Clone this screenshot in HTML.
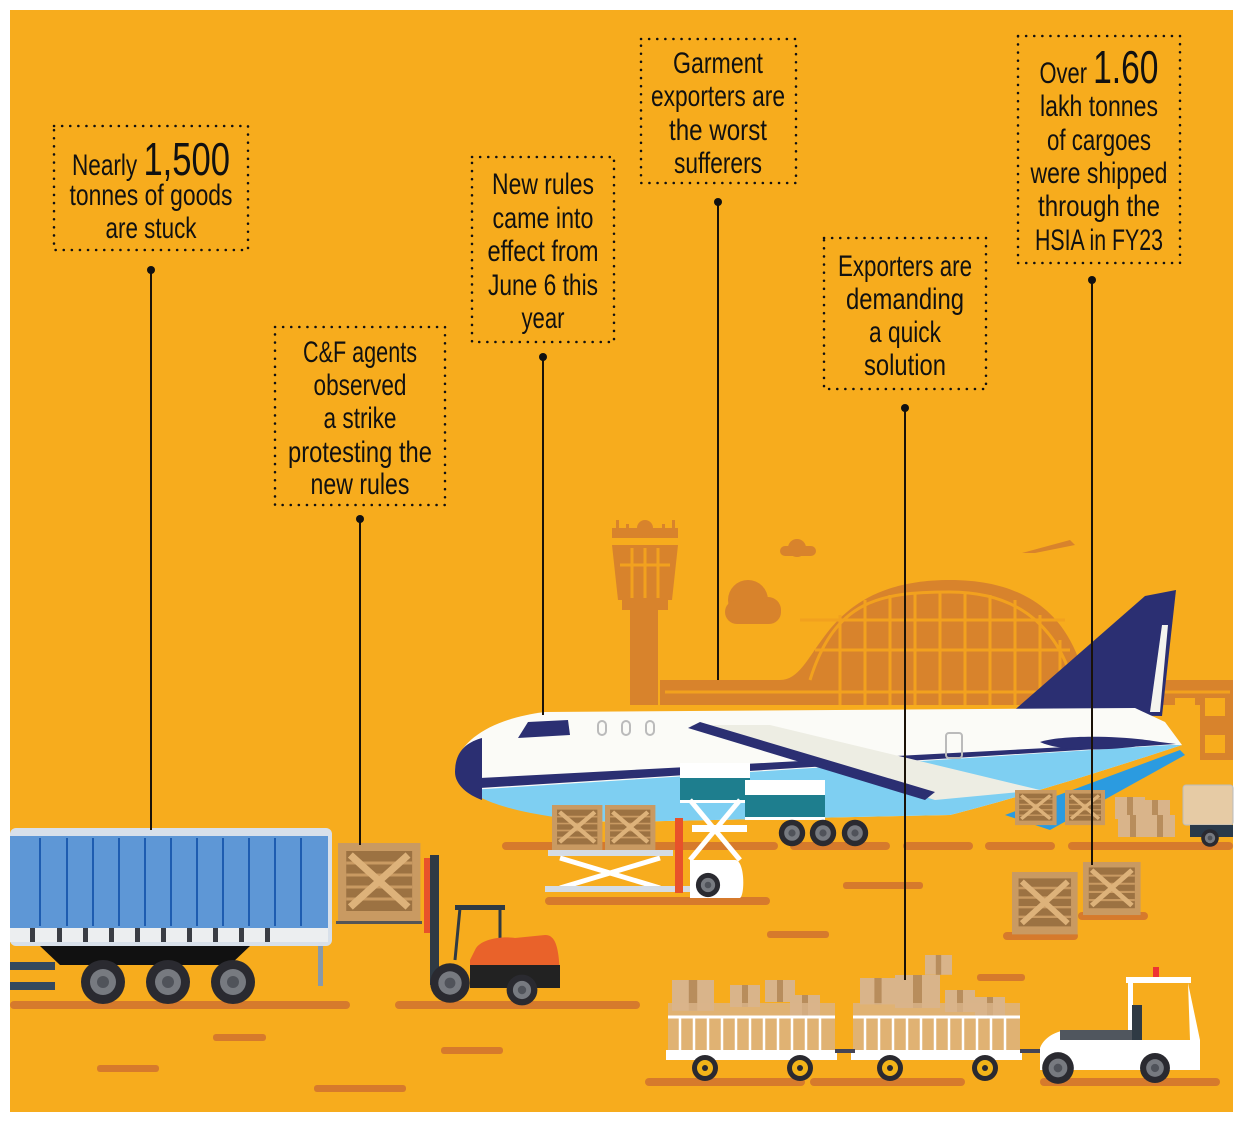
<!DOCTYPE html>
<html><head><meta charset="utf-8"><style>
html,body{margin:0;padding:0;background:#fff}
svg{display:block}
text{font-family:"Liberation Sans Narrow","Liberation Sans",sans-serif;fill:#111;font-size:30px;text-anchor:middle}
.big{font-size:46px}
</style></head><body>
<svg width="1243" height="1122" viewBox="0 0 1243 1122" xmlns="http://www.w3.org/2000/svg">
<defs>
<g id="crate">
<rect x="0" y="0" width="80" height="78" fill="#C99A62"/>
<rect x="8" y="8" width="64" height="60" fill="#9C7242"/>
<g stroke="#C99A62" stroke-width="3"><line x1="8" y1="20" x2="72" y2="20"/><line x1="8" y1="32" x2="72" y2="32"/><line x1="8" y1="44" x2="72" y2="44"/><line x1="8" y1="56" x2="72" y2="56"/></g>
<line x1="12" y1="12" x2="68" y2="64" stroke="#DDB27A" stroke-width="7"/>
<line x1="68" y1="12" x2="12" y2="64" stroke="#DDB27A" stroke-width="7"/>
</g>
<g id="box"><rect width="30" height="22" fill="#D9B48A"/><rect x="12" width="6" height="22" fill="#B88D5C"/></g>
<g id="wheel"><circle r="22" fill="#2a2a30"/><circle r="13" fill="#777a80"/><circle r="6" fill="#50535a"/></g>
<g id="ywheel"><circle r="13" fill="#2a2a30"/><circle r="8" fill="#F2B418"/><circle r="3" fill="#2a2a30"/></g>
</defs>
<rect x="10" y="10" width="1223" height="1102" fill="#F7AC1D"/>

<!-- background buildings -->
<g fill="#D8832C">
<polygon points="612,545 678,545 672,600 618,600"/>
<rect x="622" y="600" width="46" height="10"/>
<rect x="630" y="610" width="28" height="95"/>
<rect x="612" y="528" width="66" height="10"/>
<circle cx="645" cy="528" r="8"/>
<rect x="616" y="520" width="3" height="12"/><rect x="626" y="524" width="3" height="8"/><rect x="662" y="524" width="3" height="8"/><rect x="672" y="520" width="3" height="12"/>
<path d="M660,680 L780,680 C820,680 815,580 950,580 C1050,580 1075,640 1085,680 L1233,680 L1233,760 L1200,760 L1200,705 L660,705 Z"/>
<circle cx="797" cy="548" r="9"/><rect x="780" y="546" width="36" height="10" rx="5"/>
<circle cx="748" cy="600" r="20"/><circle cx="768" cy="610" r="13"/><rect x="725" y="600" width="56" height="24" rx="12"/>
<polygon points="1022,553 1070,540 1075,545 1035,553"/>
</g>
<g stroke="#F2A11E" stroke-width="3" fill="none">
<line x1="620" y1="565" x2="670" y2="565"/><line x1="632" y1="548" x2="632" y2="598"/><line x1="645" y1="548" x2="645" y2="598"/><line x1="658" y1="548" x2="658" y2="598"/>
<line x1="665" y1="692" x2="1230" y2="692"/>
<path d="M810,680 C835,600 880,592 950,592 C1030,592 1060,640 1072,680"/>
<line x1="840" y1="615" x2="840" y2="705"/><line x1="865" y1="600" x2="865" y2="705"/><line x1="890" y1="595" x2="890" y2="705"/><line x1="915" y1="592" x2="915" y2="705"/><line x1="940" y1="592" x2="940" y2="705"/><line x1="965" y1="592" x2="965" y2="705"/><line x1="990" y1="595" x2="990" y2="705"/><line x1="1015" y1="600" x2="1015" y2="705"/><line x1="1040" y1="615" x2="1040" y2="705"/><line x1="1060" y1="640" x2="1060" y2="705"/>
<line x1="815" y1="650" x2="1070" y2="650"/><line x1="800" y1="620" x2="1065" y2="620"/>
</g>
<g fill="#F7AC1D"><rect x="1175" y="698" width="20" height="18"/><rect x="1205" y="698" width="20" height="18"/><rect x="1175" y="735" width="20" height="18"/><rect x="1205" y="735" width="20" height="18"/></g>

<!-- ground dashes -->
<g fill="#D67A2C">
<rect x="10" y="1001" width="340" height="8" rx="4"/><rect x="395" y="1001" width="245" height="8" rx="4"/>
<rect x="213" y="1034" width="53" height="7" rx="3"/><rect x="97" y="1065" width="62" height="7" rx="3"/><rect x="314" y="1085" width="92" height="7" rx="3"/><rect x="441" y="1047" width="62" height="7" rx="3"/>
<rect x="645" y="1078" width="160" height="8" rx="4"/><rect x="810" y="1078" width="155" height="8" rx="4"/><rect x="1040" y="1078" width="180" height="8" rx="4"/>
<rect x="843" y="882" width="80" height="7" rx="3"/><rect x="767" y="931" width="62" height="7" rx="3"/><rect x="977" y="974" width="48" height="7" rx="3"/><rect x="620" y="1001" width="17" height="7" rx="3"/>
<rect x="502" y="842" width="276" height="8" rx="4"/><rect x="790" y="842" width="100" height="8" rx="4"/><rect x="903" y="842" width="70" height="8" rx="4"/><rect x="985" y="842" width="70" height="8" rx="4"/><rect x="1068" y="842" width="165" height="8" rx="4"/>
<rect x="545" y="897" width="225" height="8" rx="4"/>
<rect x="1003" y="932" width="75" height="8" rx="4"/><rect x="1078" y="912" width="70" height="8" rx="4"/>
</g>

<!-- plane -->
<path d="M1010,714 L1145,596 L1176,590 L1162,716 Z" fill="#2B2F72"/>
<path d="M1150,712 L1162,625 L1168,625 L1160,712 Z" fill="#F4F4EE"/>
<path d="M455,772 C455,740 495,718 545,712 L1135,708 L1165,722 L1182,745 C1100,772 1010,800 950,815 L620,822 C540,820 468,802 455,772 Z" fill="#FBFBF7"/>
<path d="M470,790 L1170,745 L1182,745 C1100,772 1010,800 950,815 L620,822 C540,820 485,805 470,790 Z" fill="#7ECFF2"/>
<path d="M480,778 L1160,742 L1176,744 L480,788 Z" fill="#2B2F72"/>
<path d="M455,772 C455,750 468,742 482,738 L482,800 C468,795 455,785 455,772 Z" fill="#2B2F72"/>
<polygon points="518,738 528,722 568,720 570,735" fill="#2B2F72"/>
<g fill="none" stroke="#bbb" stroke-width="2"><rect x="598" y="721" width="8" height="14" rx="4"/><rect x="622" y="721" width="8" height="14" rx="4"/><rect x="646" y="721" width="8" height="14" rx="4"/><rect x="946" y="733" width="16" height="25" rx="3"/></g>
<path d="M1040,742 C1060,735 1120,735 1160,742 C1120,752 1060,752 1040,742 Z" fill="#2B2F72"/>
<path d="M1005,815 L1180,750 L1185,755 L1050,830 Z" fill="#2B9BE0"/>
<rect x="680" y="763" width="70" height="40" fill="#fff"/><rect x="680" y="778" width="70" height="22" fill="#1E7E8E"/>
<rect x="745" y="780" width="80" height="40" fill="#fff"/><rect x="745" y="795" width="80" height="22" fill="#1E7E8E"/>
<polygon points="690,725 770,725 1040,790 935,800" fill="#EDEDE3"/>
<path d="M688,728 L700,722 L935,792 L925,800 Z" fill="#2B2F72"/>
<use href="#wheel" transform="translate(792,833) scale(0.6)"/><use href="#wheel" transform="translate(823,833) scale(0.6)"/><use href="#wheel" transform="translate(855,833) scale(0.6)"/>

<!-- scissor lift -->
<use href="#crate" transform="translate(552,805) scale(0.63,0.58)"/><use href="#crate" transform="translate(605,805) scale(0.63,0.58)"/>
<rect x="548" y="850" width="125" height="6" fill="#D5DCE4"/>
<g stroke="#fff" stroke-width="5"><line x1="560" y1="858" x2="660" y2="888"/><line x1="660" y1="858" x2="560" y2="888"/><line x1="690" y1="800" x2="740" y2="860"/><line x1="740" y1="800" x2="690" y2="860"/></g>
<rect x="545" y="886" width="145" height="6" fill="#D5DCE4"/>
<rect x="675" y="818" width="8" height="75" fill="#E8522A"/>
<rect x="692" y="825" width="55" height="7" fill="#fff"/>
<path d="M690,860 L735,860 C745,860 745,895 740,898 L690,898 Z" fill="#fff"/>
<use href="#wheel" transform="translate(708,885) scale(0.55)"/>

<!-- right cargo -->
<use href="#crate" transform="translate(1015,790) scale(0.52,0.45)"/><use href="#crate" transform="translate(1065,790) scale(0.5,0.45)"/>
<use href="#box" transform="translate(1115,797)"/><use href="#box" transform="translate(1140,800)"/><use href="#box" transform="translate(1118,815)"/><use href="#box" transform="translate(1145,815)"/>
<rect x="1183" y="785" width="50" height="40" rx="3" fill="#E6CBA5" stroke="#bbb"/>
<rect x="1190" y="825" width="43" height="12" fill="#2a3a4a"/>
<use href="#wheel" transform="translate(1210,838) scale(0.4)"/>
<use href="#crate" transform="translate(1012,872) scale(0.82,0.8)"/>
<use href="#crate" transform="translate(1083,862) scale(0.72,0.68)"/>

<!-- truck -->
<rect x="10" y="828" width="322" height="118" rx="6" fill="#D8E0EA"/>
<rect x="10" y="836" width="318" height="92" fill="#5E97D6"/>
<g stroke="#1E5CB0" stroke-width="2"><line x1="40" y1="838" x2="40" y2="926"/><line x1="67" y1="838" x2="67" y2="926"/><line x1="93" y1="838" x2="93" y2="926"/><line x1="119" y1="838" x2="119" y2="926"/><line x1="145" y1="838" x2="145" y2="926"/><line x1="171" y1="838" x2="171" y2="926"/><line x1="197" y1="838" x2="197" y2="926"/><line x1="223" y1="838" x2="223" y2="926"/><line x1="249" y1="838" x2="249" y2="926"/><line x1="275" y1="838" x2="275" y2="926"/><line x1="301" y1="838" x2="301" y2="926"/></g>
<rect x="10" y="928" width="318" height="14" fill="#ECEEF0"/>
<g fill="#3a3d44"><rect x="30" y="928" width="5" height="14"/><rect x="57" y="928" width="5" height="14"/><rect x="83" y="928" width="5" height="14"/><rect x="109" y="928" width="5" height="14"/><rect x="135" y="928" width="5" height="14"/><rect x="161" y="928" width="5" height="14"/><rect x="187" y="928" width="5" height="14"/><rect x="213" y="928" width="5" height="14"/><rect x="239" y="928" width="5" height="14"/><rect x="265" y="928" width="5" height="14"/></g>
<path d="M40,946 L250,946 L230,965 L60,965 Z" fill="#111"/>
<rect x="10" y="962" width="45" height="8" fill="#34495e"/><rect x="10" y="982" width="45" height="8" fill="#34495e"/>
<rect x="318" y="946" width="5" height="40" fill="#8899aa"/>
<use href="#wheel" transform="translate(103,982)"/><use href="#wheel" transform="translate(168,982)"/><use href="#wheel" transform="translate(233,982)"/>

<!-- forklift -->
<use href="#crate" transform="translate(338,843) scale(1.03,1.0)"/>
<rect x="336" y="921" width="86" height="3" fill="#555"/>
<rect x="424" y="858" width="7" height="75" fill="#E8522A"/>
<rect x="430" y="855" width="9" height="130" fill="#2f3a44"/>
<rect x="455" y="905" width="50" height="5" fill="#2f3a44"/>
<path d="M460,908 L455,960 M500,908 L500,945" stroke="#2f3a44" stroke-width="3"/>
<path d="M475,950 C480,938 505,936 515,938 L545,935 C555,935 560,945 560,985 L470,985 L470,960 Z" fill="#E9622A"/>
<path d="M470,965 L560,965 L560,988 L470,988 Z" fill="#222"/>
<use href="#wheel" transform="translate(450,983) scale(0.9)"/><use href="#wheel" transform="translate(522,990) scale(0.7)"/>

<!-- carts -->
<g>
<use href="#box" transform="translate(672,980) scale(1.4)"/><use href="#box" transform="translate(730,985)"/><use href="#box" transform="translate(765,980)"/><use href="#box" transform="translate(790,995)"/>
<use href="#box" transform="translate(860,978) scale(1.2)"/><use href="#box" transform="translate(895,975) scale(1.5)"/><use href="#box" transform="translate(925,955) scale(0.9)"/><use href="#box" transform="translate(945,990)"/><use href="#box" transform="translate(975,997)"/>
<rect x="668" y="1003" width="167" height="50" fill="#D9B48A" opacity=".8"/>
<rect x="853" y="1003" width="167" height="50" fill="#D9B48A" opacity=".8"/>
<g stroke="#fff" stroke-width="3"><line x1="668" y1="1017" x2="835" y2="1017"/><line x1="853" y1="1017" x2="1020" y2="1017"/></g>
<g stroke="#fff" stroke-width="2.5"><line x1="680" y1="1017" x2="680" y2="1050"/><line x1="694" y1="1017" x2="694" y2="1050"/><line x1="708" y1="1017" x2="708" y2="1050"/><line x1="722" y1="1017" x2="722" y2="1050"/><line x1="736" y1="1017" x2="736" y2="1050"/><line x1="750" y1="1017" x2="750" y2="1050"/><line x1="764" y1="1017" x2="764" y2="1050"/><line x1="778" y1="1017" x2="778" y2="1050"/><line x1="792" y1="1017" x2="792" y2="1050"/><line x1="806" y1="1017" x2="806" y2="1050"/><line x1="820" y1="1017" x2="820" y2="1050"/>
<line x1="865" y1="1017" x2="865" y2="1050"/><line x1="879" y1="1017" x2="879" y2="1050"/><line x1="893" y1="1017" x2="893" y2="1050"/><line x1="907" y1="1017" x2="907" y2="1050"/><line x1="921" y1="1017" x2="921" y2="1050"/><line x1="935" y1="1017" x2="935" y2="1050"/><line x1="949" y1="1017" x2="949" y2="1050"/><line x1="963" y1="1017" x2="963" y2="1050"/><line x1="977" y1="1017" x2="977" y2="1050"/><line x1="991" y1="1017" x2="991" y2="1050"/><line x1="1005" y1="1017" x2="1005" y2="1050"/></g>
<rect x="666" y="1050" width="171" height="10" fill="#fff"/><rect x="851" y="1050" width="171" height="10" fill="#fff"/>
<rect x="835" y="1049" width="20" height="4" fill="#445"/><rect x="1020" y="1049" width="25" height="4" fill="#445"/>
<use href="#ywheel" transform="translate(705,1068)"/><use href="#ywheel" transform="translate(800,1068)"/><use href="#ywheel" transform="translate(890,1068)"/><use href="#ywheel" transform="translate(985,1068)"/>
<rect x="1126" y="977" width="65" height="6" fill="#fff"/><rect x="1153" y="967" width="6" height="10" fill="#e33"/>
<rect x="1128" y="983" width="5" height="50" fill="#fff"/>
<path d="M1188,983 L1200,1040 L1200,1070 L1040,1070 L1040,1048 C1045,1035 1060,1030 1070,1030 L1130,1030 L1130,1040 L1190,1040 Z" fill="#fff"/>
<rect x="1060" y="1030" width="72" height="10" fill="#50565e"/>
<rect x="1132" y="1005" width="10" height="35" fill="#2f3a44"/>
<use href="#wheel" transform="translate(1058,1068) scale(0.72)"/><use href="#wheel" transform="translate(1155,1068) scale(0.68)"/>
</g>

<!-- connectors -->
<g stroke="#1a1208" stroke-width="2">
<line x1="151" y1="270" x2="151" y2="830"/>
<line x1="360" y1="519" x2="360" y2="845"/>
<line x1="543" y1="357" x2="543" y2="715"/>
<line x1="718" y1="202" x2="718" y2="680"/>
<line x1="905" y1="408" x2="905" y2="980"/>
<line x1="1092" y1="280" x2="1092" y2="865"/>
</g>
<g fill="#111"><circle cx="151" cy="270" r="4"/><circle cx="360" cy="519" r="4"/><circle cx="543" cy="357" r="4"/><circle cx="718" cy="202" r="4"/><circle cx="905" cy="408" r="4"/><circle cx="1092" cy="280" r="4"/></g>

<!-- label boxes -->
<g fill="none" stroke="#111" stroke-width="2.5" stroke-dasharray="0.1 8" stroke-linecap="round">
<rect x="54" y="126" width="194" height="124"/>
<rect x="275" y="327" width="170" height="178"/>
<rect x="472" y="157" width="142" height="185"/>
<rect x="641" y="39" width="155" height="144"/>
<rect x="824" y="238" width="162" height="151"/>
<rect x="1018" y="36" width="162" height="227"/>
</g>

<text x="151" y="175" textLength="158" lengthAdjust="spacingAndGlyphs">Nearly <tspan class="big">1,500</tspan></text>
<text x="151" y="205" textLength="163" lengthAdjust="spacingAndGlyphs">tonnes of goods</text>
<text x="151" y="238" textLength="91" lengthAdjust="spacingAndGlyphs">are stuck</text>

<text x="360" y="362" textLength="114" lengthAdjust="spacingAndGlyphs">C&amp;F agents</text>
<text x="360" y="395" textLength="93" lengthAdjust="spacingAndGlyphs">observed</text>
<text x="360" y="428" textLength="73" lengthAdjust="spacingAndGlyphs">a strike</text>
<text x="360" y="462" textLength="144" lengthAdjust="spacingAndGlyphs">protesting the</text>
<text x="360" y="494" textLength="99" lengthAdjust="spacingAndGlyphs">new rules</text>

<text x="543" y="194" textLength="102" lengthAdjust="spacingAndGlyphs">New rules</text>
<text x="543" y="228" textLength="101" lengthAdjust="spacingAndGlyphs">came into</text>
<text x="543" y="261" textLength="111" lengthAdjust="spacingAndGlyphs">effect from</text>
<text x="543" y="295" textLength="110" lengthAdjust="spacingAndGlyphs">June 6 this</text>
<text x="543" y="328" textLength="43" lengthAdjust="spacingAndGlyphs">year</text>

<text x="718" y="73" textLength="90" lengthAdjust="spacingAndGlyphs">Garment</text>
<text x="718" y="106" textLength="134" lengthAdjust="spacingAndGlyphs">exporters are</text>
<text x="718" y="140" textLength="98" lengthAdjust="spacingAndGlyphs">the worst</text>
<text x="718" y="173" textLength="88" lengthAdjust="spacingAndGlyphs">sufferers</text>

<text x="905" y="276" textLength="134" lengthAdjust="spacingAndGlyphs">Exporters are</text>
<text x="905" y="309" textLength="118" lengthAdjust="spacingAndGlyphs">demanding</text>
<text x="905" y="342" textLength="72" lengthAdjust="spacingAndGlyphs">a quick</text>
<text x="905" y="375" textLength="82" lengthAdjust="spacingAndGlyphs">solution</text>

<text x="1099" y="83" textLength="119" lengthAdjust="spacingAndGlyphs">Over <tspan class="big">1.60</tspan></text>
<text x="1099" y="116" textLength="118" lengthAdjust="spacingAndGlyphs">lakh tonnes</text>
<text x="1099" y="150" textLength="104" lengthAdjust="spacingAndGlyphs">of cargoes</text>
<text x="1099" y="183" textLength="137" lengthAdjust="spacingAndGlyphs">were shipped</text>
<text x="1099" y="216" textLength="122" lengthAdjust="spacingAndGlyphs">through the</text>
<text x="1099" y="250" textLength="128" lengthAdjust="spacingAndGlyphs">HSIA in FY23</text>
</svg>
</body></html>
